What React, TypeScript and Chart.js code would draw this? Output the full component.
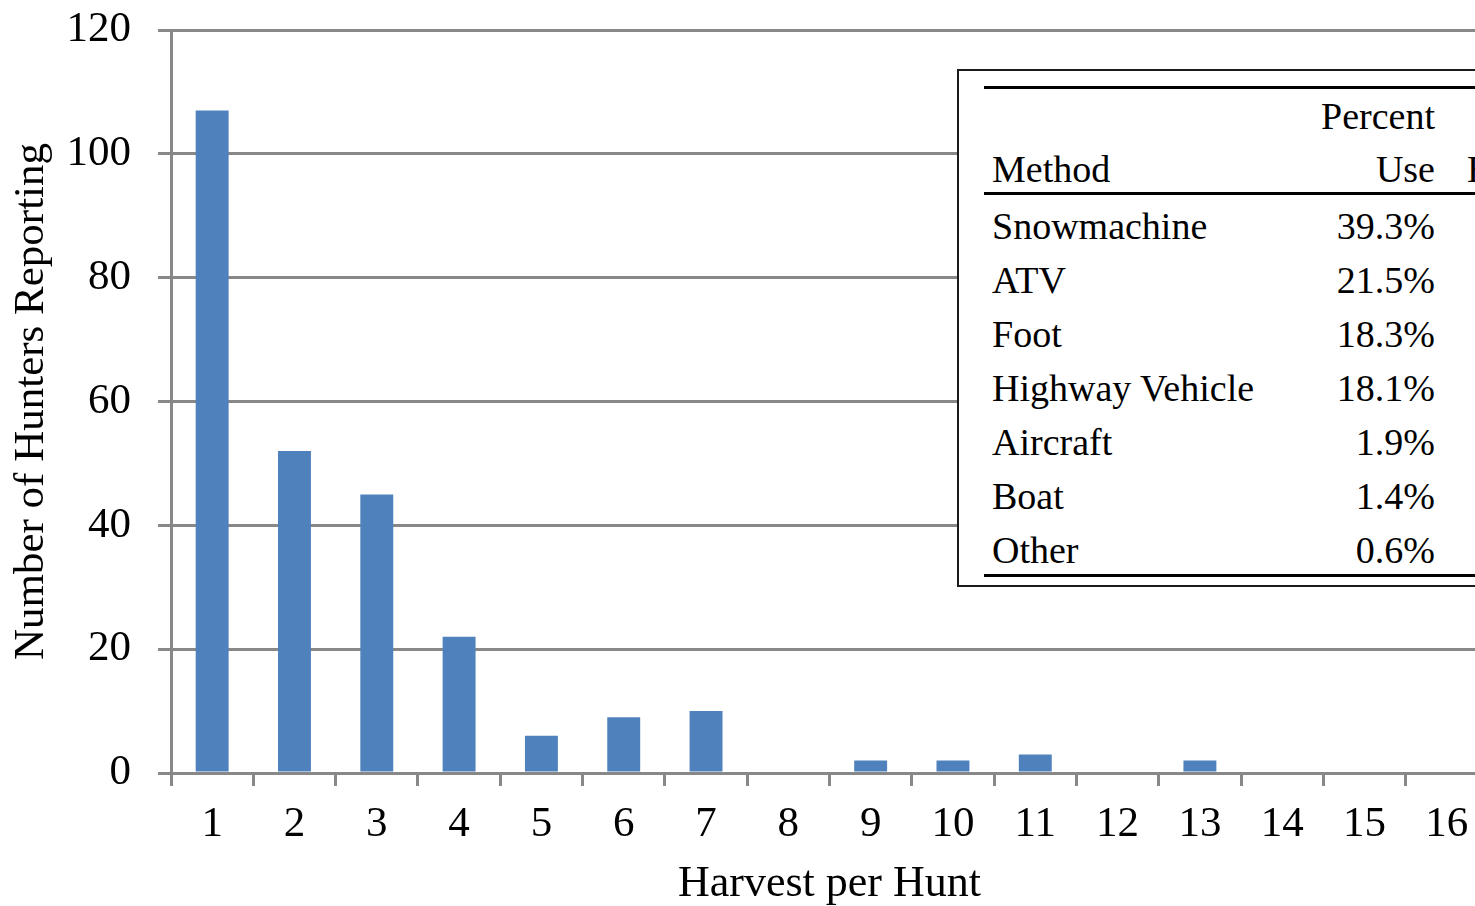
import React, { useEffect, useRef } from "react";
import { Chart, registerables } from "chart.js";

Chart.register(...registerables);

const categories = ["1", "2", "3", "4", "5", "6", "7", "8", "9", "10", "11", "12", "13", "14", "15", "16"];
const huntersReporting = [107, 52, 45, 22, 6, 9, 10, 0, 2, 2, 3, 0, 2, 0, 0, 0];
const yMin = 0;
const yMax = 120;
const yStep = 20;

const methods = ["Snowmachine", "ATV", "Foot", "Highway Vehicle", "Aircraft", "Boat", "Other"];
const percentUse = ["39.3%", "21.5%", "18.3%", "18.1%", "1.9%", "1.4%", "0.6%"];
const tableHeaders = { method: "Method", use: ["Percent", "Use"], harvest: ["Percent", "Harvest"] };

const SERIF = '"Liberation Serif", "Times New Roman", serif';
const GRID = "#888888";
const BAR = "#4f81bd";

const TABLE_FONT = 38;
const BASE_OFF = 31.8; // baseline offset within a 38px line box

function Txt(props: { text: string; baseline: number; left?: number; right?: number }) {
  const style: React.CSSProperties = {
    position: "absolute",
    top: props.baseline - BASE_OFF,
    fontFamily: SERIF,
    fontSize: TABLE_FONT,
    lineHeight: TABLE_FONT + "px",
    color: "#000",
    whiteSpace: "nowrap",
  };
  if (props.right !== undefined) {
    style.left = props.right - 400;
    style.width = 400;
    style.textAlign = "right";
  } else {
    style.left = props.left;
  }
  return <div style={style}>{props.text}</div>;
}

export default function App() {
  const canvasRef = useRef<HTMLCanvasElement | null>(null);

  useEffect(() => {
    if (!canvasRef.current) return;
    const chart = new Chart(canvasRef.current, {
      type: "bar",
      data: {
        labels: categories,
        datasets: [
          {
            data: huntersReporting,
            backgroundColor: BAR,
            borderWidth: 0,
            barPercentage: 0.4,
            categoryPercentage: 1,
          },
        ],
      },
      options: {
        animation: false,
        responsive: false,
        devicePixelRatio: 1,
        layout: { padding: { top: 30, left: 0, right: 12, bottom: 0 } },
        plugins: { legend: { display: false }, tooltip: { enabled: false }, title: { display: false } },
        scales: {
          x: {
            offset: true,
            grid: {
              display: true,
              offset: true,
              drawOnChartArea: false,
              drawTicks: true,
              tickLength: 13,
              color: GRID,
              lineWidth: 3,
            },
            border: { display: true, color: GRID, width: 3 },
            ticks: {
              color: "#000",
              padding: 17,
              maxRotation: 0,
              autoSkip: false,
              font: { family: SERIF, size: 43, lineHeight: 1 },
            },
            title: {
              display: true,
              text: "Harvest per Hunt",
              color: "#000",
              padding: { top: 0, bottom: 0 },
              font: { family: SERIF, size: 44, lineHeight: 1 },
            },
            afterFit: (scale: any) => {
              scale.height = 133;
            },
          },
          y: {
            z: 1,
            min: yMin,
            max: yMax,
            ticks: {
              stepSize: yStep,
              color: "#000",
              padding: 27,
              font: { family: SERIF, size: 43, lineHeight: 1 },
            },
            grid: {
              color: GRID,
              lineWidth: 3,
              tickLength: 13,
              drawTicks: true,
            },
            border: { display: true, color: GRID, width: 3 },
            title: {
              display: true,
              text: "Number of Hunters Reporting",
              color: "#000",
              padding: { top: 10, bottom: 0 },
              font: { family: SERIF, size: 43, lineHeight: 1 },
            },
            afterFit: (scale: any) => {
              scale.width = 171;
              scale.paddingTop = 10;
              scale.paddingBottom = 10;
            },
          },
        },
      },
    });
    return () => chart.destroy();
  }, []);

  const rowBaselines = methods.map((_, i) => 239 + i * 54);

  return (
    <div
      style={{
        position: "fixed",
        left: 0,
        top: 0,
        width: 1475,
        height: 906,
        overflow: "hidden",
        background: "#fff",
      }}
    >
      <canvas
        ref={canvasRef}
        width={1500}
        height={906}
        style={{ position: "absolute", left: 0, top: 0, width: 1500, height: 906 }}
      />
      {/* Inset table */}
      <div
        style={{
          position: "absolute",
          left: 957,
          top: 69,
          width: 700,
          height: 518,
          boxSizing: "border-box",
          border: "2px solid #1a1a1a",
          background: "#fff",
        }}
      />
      <div style={{ position: "absolute", left: 984, top: 86, width: 700, height: 3, background: "#000" }} />
      <div style={{ position: "absolute", left: 984, top: 192, width: 700, height: 3, background: "#000" }} />
      <div style={{ position: "absolute", left: 984, top: 574, width: 700, height: 3, background: "#000" }} />

      <Txt text={tableHeaders.use[0]} baseline={129} right={1435} />
      <Txt text={tableHeaders.method} baseline={182} left={992} />
      <Txt text={tableHeaders.use[1]} baseline={182} right={1435} />
      <Txt text={tableHeaders.harvest[0]} baseline={129} left={1492} />
      <Txt text={tableHeaders.harvest[1]} baseline={182} left={1467} />

      {methods.map((m, i) => (
        <React.Fragment key={m}>
          <Txt text={m} baseline={rowBaselines[i]} left={992} />
          <Txt text={percentUse[i]} baseline={rowBaselines[i]} right={1435} />
        </React.Fragment>
      ))}
    </div>
  );
}
